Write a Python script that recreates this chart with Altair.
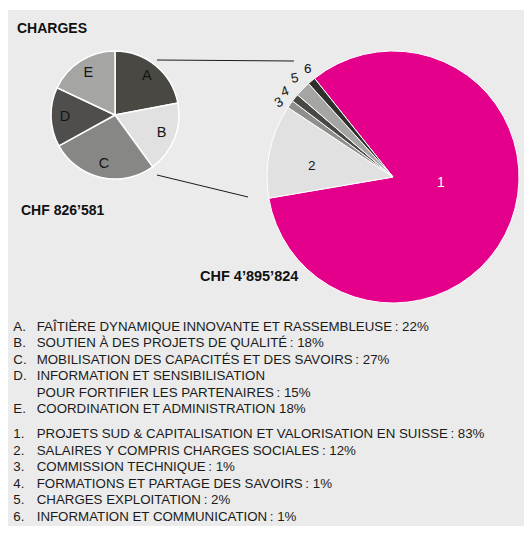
import math
import altair as alt
import pandas as pd

FONT = "Liberation Sans"

# ---- data ----
small_keys = ["A", "B", "C", "D", "E"]
small_vals = [22, 18, 27, 15, 18]

big_keys = ["1", "2", "3", "4", "5", "6"]
big_vals = [83, 12, 1, 1, 2, 1]

legend_group1_keys = ["A.", "B.", "C.", "D.", "E."]
legend_group1_labels = [
    "FAÎTIÈRE DYNAMIQUE\u2009INNOVANTE ET RASSEMBLEUSE\u2009: 22%",
    "SOUTIEN À DES PROJETS DE QUALITÉ\u2009: 18%",
    "MOBILISATION DES CAPACITÉS ET DES SAVOIRS\u2009: 27%",
    "INFORMATION ET SENSIBILISATION\nPOUR FORTIFIER LES PARTENAIRES\u2009: 15%",
    "COORDINATION ET ADMINISTRATION 18%",
]
legend_group2_keys = ["1.", "2.", "3.", "4.", "5.", "6."]
legend_group2_labels = [
    "PROJETS SUD & CAPITALISATION ET VALORISATION EN SUISSE\u2009: 83%",
    "SALAIRES Y COMPRIS CHARGES SOCIALES\u2009: 12%",
    "COMMISSION TECHNIQUE\u2009: 1%",
    "FORMATIONS ET PARTAGE DES SAVOIRS\u2009: 1%",
    "CHARGES EXPLOITATION\u2009: 2%",
    "INFORMATION ET COMMUNICATION\u2009: 1%",
]

title_text = "CHARGES"
small_total = "CHF 826\u2019581"
big_total = "CHF 4\u2019895\u2019824"

# ---- styles ----
small_colors = ["#4a4843", "#e1e1e1", "#878785", "#4f4e4c", "#a5a5a3"]
big_colors = ["#e5008b", "#e1e1e1", "#8f8f8d", "#4a4843", "#a5a5a3", "#2f2f2c"]
W, H = 516, 518

one = pd.DataFrame({"a": [0]})

bg = alt.Chart(one).mark_rect(color="#ebebeb").encode(
    x=alt.value(0), x2=alt.value(W), y=alt.value(2), y2=alt.value(H)
)

# small pie
sdf = pd.DataFrame({"k": small_keys, "v": small_vals, "o": list(range(len(small_keys)))})
base_s = alt.Chart(sdf).encode(
    theta=alt.Theta("v:Q", stack=True),
    order=alt.Order("o:Q"),
    x=alt.value(107), y=alt.value(107),
)
arc_s = base_s.mark_arc(outerRadius=64, stroke="white", strokeWidth=1.5).encode(
    color=alt.Color("k:N", scale=alt.Scale(domain=small_keys, range=small_colors), legend=None)
)
txt_s = base_s.mark_text(radius=50, fontSize=14.5, font=FONT, color="#151515").encode(text="k:N")
small = alt.layer(arc_s, txt_s)

# big pie
start = -38.5 * math.pi / 180
bdf = pd.DataFrame({"k": big_keys, "v": big_vals, "o": list(range(len(big_keys)))})
base_b = alt.Chart(bdf).encode(
    theta=alt.Theta("v:Q", stack=True, scale=alt.Scale(range=[start, start + 2 * math.pi])),
    order=alt.Order("o:Q"),
    x=alt.value(385), y=alt.value(169),
)
arc_b = base_b.mark_arc(outerRadius=126, stroke="white", strokeWidth=1).encode(
    color=alt.Color("k:N", scale=alt.Scale(domain=big_keys, range=big_colors), legend=None)
)


def big_label(key, radius, dx=0, dy=0, color="#151515", size=13.5, angle=0):
    return base_b.transform_calculate(t=f"datum.k == '{key}' ? datum.k : ''").mark_text(
        radius=radius, dx=dx, dy=dy, fontSize=size, font=FONT, color=color, angle=angle
    ).encode(text="t:N")


big = alt.layer(
    arc_b,
    big_label("1", 48, dx=3, dy=-11, color="white", size=14),
    big_label("2", 83, dy=6),
    big_label("3", 138, dx=-4, dy=4, angle=330),
    big_label("4", 138, dx=-1, dy=1, angle=340),
    big_label("5", 138, dx=1, dy=-2, angle=350),
    big_label("6", 138, dx=4, dy=-3),
)

# connectors
conn1 = alt.Chart(one).mark_rule(color="#1a1a1a", strokeWidth=1).encode(
    x=alt.value(149), y=alt.value(52), x2=alt.value(286), y2=alt.value(53)
)
conn2 = alt.Chart(one).mark_rule(color="#1a1a1a", strokeWidth=1).encode(
    x=alt.value(149), y=alt.value(167), x2=alt.value(240), y2=alt.value(189)
)


# titles
def label(txt, x, y, size=14, weight="bold"):
    return alt.Chart(pd.DataFrame({"t": [txt]})).mark_text(
        align="left", baseline="middle", fontSize=size, fontWeight=weight, font=FONT, color="#111111"
    ).encode(text="t:N", x=alt.value(x), y=alt.value(y))


title = label(title_text, 9, 21, 14)
tot_s = label(small_total, 13, 202.5, 14)
tot_b = label(big_total, 192, 268.5, 14.5)

# legend rows
rows = []
line = 0.0
for k, lab in zip(legend_group1_keys, legend_group1_labels):
    rows.append({"k": k, "lab": lab, "line": line})
    line += lab.count("\n") + 1
line += 0.53
for k, lab in zip(legend_group2_keys, legend_group2_labels):
    rows.append({"k": k, "lab": lab, "line": line})
    line += lab.count("\n") + 1
ldf = pd.DataFrame(rows)
last = ldf["line"].max()
LH = 16.5
y0 = 318.0 + 4.7
yscale = alt.Scale(domain=[0, last], range=[y0, y0 + last * LH])
leg_keys = alt.Chart(ldf).mark_text(
    align="left", baseline="alphabetic", fontSize=13.3, font=FONT, color="#1a1a1a"
).encode(x=alt.value(5.3), y=alt.Y("line:Q", scale=yscale, axis=None), text="k:N")
leg_labs = alt.Chart(ldf).mark_text(
    align="left", baseline="alphabetic", fontSize=13.3, font=FONT, color="#1a1a1a",
    lineBreak="\n", lineHeight=LH,
).encode(x=alt.value(28.7), y=alt.Y("line:Q", scale=yscale, axis=None), text="lab:N")

chart = alt.layer(
    bg, small, big, conn1, conn2, title, tot_s, tot_b, leg_keys, leg_labs
).resolve_scale(theta="independent", color="independent").properties(
    width=W, height=H, autosize=alt.AutoSizeParams(type="none"), padding=0, background="white"
).configure_view(stroke=None)

chart.save("out.html", embed_options={"renderer": "svg", "actions": False})
